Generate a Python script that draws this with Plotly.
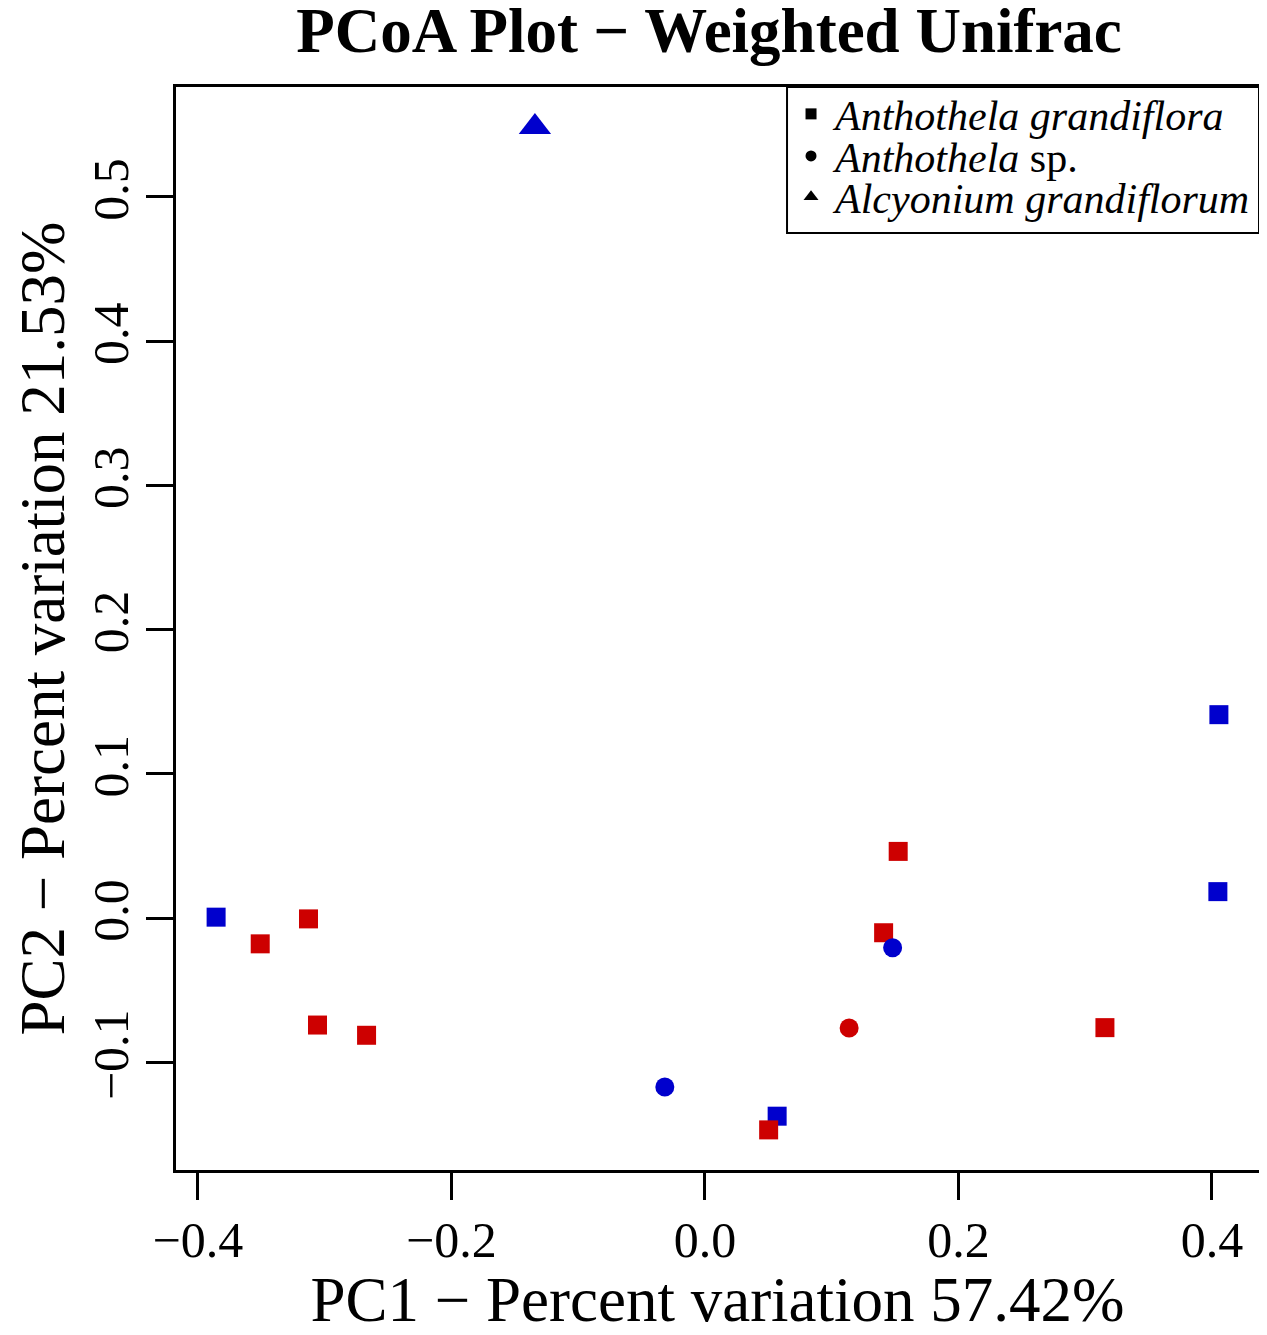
#!/usr/bin/env python3
from __future__ import annotations

import plotly.graph_objects as go

FONT = "Liberation Serif"
COLOURS = {"blue": "#0000CD", "red": "#CD0000"}
SYMBOLS = {
    "Anthothela grandiflora": "square",
    "Anthothela sp.": "circle",
    "Alcyonium grandiflorum": "triangle-up",
}
LEGEND_NAMES = {
    "Anthothela grandiflora": "<i>Anthothela grandiflora</i>",
    "Anthothela sp.": "<i>Anthothela</i> sp.",
    "Alcyonium grandiflorum": "<i>Alcyonium grandiflorum</i>",
}
MARKER_SIZE = {"square": 19, "circle": 19, "triangle-up": 28}

# sample scores
PC1 = [-0.3856, -0.3508, -0.3127, -0.3056, -0.2669, 0.0570, 0.0503, 0.1525,
       0.1410, 0.3156, 0.4055, 0.4047, -0.0316, 0.1138, 0.1481, -0.1341]
PC2 = [0.0006, -0.0179, -0.0006, -0.0742, -0.0813, -0.1374, -0.1469, 0.0462,
       -0.0102, -0.0760, 0.1410, 0.0183, -0.1171, -0.0763, -0.0206, 0.5484]
SPECIES = ["Anthothela grandiflora"] * 12 + ["Anthothela sp."] * 3 + ["Alcyonium grandiflorum"]
COLOUR = ["blue", "red", "red", "red", "red", "blue", "red", "red",
          "red", "red", "blue", "blue", "blue", "red", "blue", "blue"]

X_TICKS = [-0.4, -0.2, 0.0, 0.2, 0.4]
Y_TICKS = [-0.1, 0.0, 0.1, 0.2, 0.3, 0.4, 0.5]

TITLE = "PCoA Plot \u2212 Weighted Unifrac"
X_TITLE = "PC1 \u2212 Percent variation 57.42%"
Y_TITLE = "PC2 \u2212 Percent variation 21.53%"

# drawing order matters where points overlap
DRAW_ORDER = [
    ("Anthothela grandiflora", "blue"),
    ("Anthothela grandiflora", "red"),
    ("Anthothela sp.", "red"),
    ("Anthothela sp.", "blue"),
    ("Alcyonium grandiflorum", "blue"),
]

# the page body keeps its default 8px margin, so the figure is 8px smaller
FIG_W, FIG_H = 1259, 1327

# legend box (paper coords); R packs rows tighter than one plotly legend can,
# so each key gets its own legend inside one drawn frame
LEG_LEFT = 0.5642
LEG_BOTTOM = 0.8652
LEG_ROWS = [0.9750, 0.9362, 0.8984]


def padded_range(values: list[float], frac: float = 0.04) -> list[float]:
    lo, hi = min(values), max(values)
    pad = (hi - lo) * frac
    return [lo - pad, hi + pad]


def add_points(fig: go.Figure) -> None:
    for species, colour in DRAW_ORDER:
        idx = [i for i in range(len(PC1)) if SPECIES[i] == species and COLOUR[i] == colour]
        if not idx:
            continue
        symbol = SYMBOLS[species]
        fig.add_trace(go.Scatter(
            x=[PC1[i] for i in idx], y=[PC2[i] for i in idx],
            mode="markers", showlegend=False, name=species,
            marker=dict(symbol=symbol, size=MARKER_SIZE[symbol], color=COLOURS[colour],
                        line=dict(width=0)),
        ))


def add_legend(fig: go.Figure) -> None:
    layouts = {}
    for k, (species, symbol) in enumerate(SYMBOLS.items()):
        leg = "legend" if k == 0 else f"legend{k + 1}"
        fig.add_trace(go.Scatter(
            x=[None], y=[None], mode="markers", name=LEGEND_NAMES[species], legend=leg,
            marker=dict(symbol=symbol, size=13 if symbol == "triangle-up" else 11,
                        color="black", line=dict(width=0)),
        ))
        layouts[leg] = dict(
            x=LEG_LEFT, y=LEG_ROWS[k], xanchor="left", yanchor="middle",
            bgcolor="rgba(0,0,0,0)", borderwidth=0, itemwidth=38,
            font=dict(family=FONT, size=42, color="black"),
        )
    fig.update_layout(**layouts)
    fig.add_shape(type="rect", xref="paper", yref="paper",
                  x0=LEG_LEFT, x1=1, y0=LEG_BOTTOM, y1=1, layer="above",
                  line=dict(color="black", width=2), fillcolor="white")


def main() -> None:
    fig = go.Figure()
    add_points(fig)
    add_legend(fig)

    # automargin on so the title standoff counts; margins stay fixed below
    axis_common = dict(
        showline=True, linecolor="black", linewidth=2.5, mirror=True,
        ticks="outside", ticklen=27, tickwidth=2.5, tickcolor="black",
        showgrid=False, zeroline=False, tickformat=".1f", automargin=True,
        tickfont=dict(family=FONT, size=50, color="black"),
    )
    fig.update_xaxes(
        range=padded_range(PC1), tickvals=X_TICKS, ticklabelstandoff=-3,
        title=dict(text=X_TITLE, font=dict(family=FONT, size=63, color="black"), standoff=10),
        **axis_common,
    )
    fig.update_yaxes(
        range=padded_range(PC2), tickvals=Y_TICKS, tickangle=-90, ticklabelstandoff=-2,
        title=dict(text=Y_TITLE, font=dict(family=FONT, size=63, color="black"), standoff=25),
        **axis_common,
    )
    fig.update_layout(
        width=FIG_W, height=FIG_H,
        margin=dict(l=168, r=8, t=79, b=165, autoexpand=False),
        paper_bgcolor="white", plot_bgcolor="white",
        title=dict(text=TITLE, x=701 / FIG_W, xref="container", xanchor="center",
                   y=1.0, yanchor="top",
                   font=dict(family=FONT, size=63, color="black", weight="bold")),
    )
    fig.write_html("out.html")


if __name__ == "__main__":
    main()
